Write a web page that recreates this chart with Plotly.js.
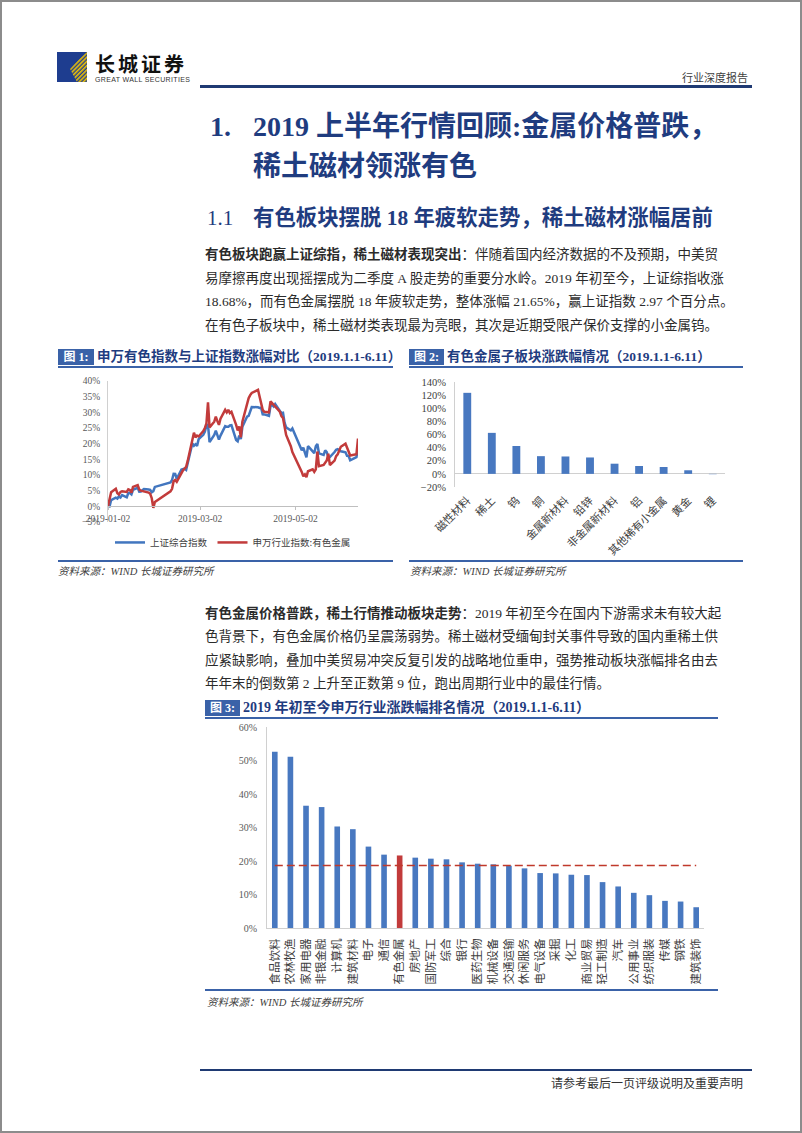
<!DOCTYPE html>
<html>
<head>
<meta charset="utf-8">
<script src="https://cdn.plot.ly/plotly-3.0.1.min.js"></script>
<style>
  html, body { margin:0; padding:0; background:#fff; }
  #page { position:relative; width:802px; height:1133px; overflow:hidden; background:#fff;
          font-family:"Liberation Serif","Noto Sans CJK SC",serif; color:#222; }
  .abs { position:absolute; white-space:nowrap; }
  .border { position:absolute; left:0; top:0; width:798px; height:1129px; border:2px solid #8c8c8c; }
  .navy { color:#1F3C7F; }
  .para { position:absolute; left:205px; width:513px; font-size:13.5px; line-height:20px; height:20px;
          white-space:nowrap; color:#2b2b2b; }
  .just { text-align:justify; text-align-last:justify; }
  .figbox { position:absolute; height:16px; line-height:16px; background:#3A62A8; color:#fff;
            font-weight:bold; font-size:12px; text-align:center; }
  .figtitle { position:absolute; height:16px; line-height:16px; font-weight:bold; font-size:13.5px;
              color:#1F3C7F; white-space:nowrap; }
  .rule { position:absolute; height:2px; background:#3A62A8; }
  .src { position:absolute; font-style:italic; font-size:10.5px; color:#404040; line-height:14px; white-space:nowrap; }
  .chart { position:absolute; }
</style>
</head>
<body>
<div id="page">
  <div class="border"></div>

  <!-- header -->
  <svg class="abs" style="left:57px;top:52px" width="30" height="30" viewBox="0 0 30 30">
    <defs>
      <pattern id="st" width="3" height="3" patternUnits="userSpaceOnUse" patternTransform="rotate(45)">
        <rect width="3" height="3" fill="#1E3D8F"/>
        <rect width="1.6" height="3" fill="#F2C400"/>
      </pattern>
    </defs>
    <rect x="0" y="0" width="30" height="30" fill="#1E3D8F"/>
    <polygon points="30,0 30,30 20,30 13,17 22,7" fill="url(#st)"/>
  </svg>
  <div class="abs" style="left:95px;top:52px;font-size:20px;line-height:24px;font-weight:bold;letter-spacing:3px;font-family:'Noto Sans CJK SC';color:#111;">长城证券</div>
  <div class="abs" style="left:95px;top:75px;font-size:7px;line-height:9px;letter-spacing:0.35px;font-family:'Liberation Sans';color:#333;">GREAT WALL SECURITIES</div>
  <div class="abs" style="left:600px;width:148px;top:70px;font-size:11px;line-height:15px;text-align:right;font-family:'Noto Sans CJK SC';color:#404040;">行业深度报告</div>
  <div class="abs" style="left:200px;top:85px;width:552px;height:2.5px;background:#1F3A73;"></div>

  <!-- headings -->
  <div class="abs navy" style="left:210px;top:110px;font-size:28px;line-height:34px;font-weight:bold;">1.</div>
  <div class="abs navy" style="left:253px;top:110px;font-size:28px;line-height:34px;font-weight:bold;">2019 上半年行情回顾:金属价格普跌，</div>
  <div class="abs navy" style="left:253px;top:150px;font-size:28px;line-height:34px;font-weight:bold;">稀土磁材领涨有色</div>
  <div class="abs navy" style="left:207px;top:206px;font-size:21px;line-height:24px;">1.1</div>
  <div class="abs navy" style="left:253px;top:206px;font-size:21.4px;line-height:24px;font-weight:bold;">有色板块摆脱 18 年疲软走势，稀土磁材涨幅居前</div>

  <!-- paragraph 1 -->
  <div class="para just" style="top:245px;"><b>有色板块跑赢上证综指，稀土磁材表现突出</b>：伴随着国内经济数据的不及预期，中美贸</div>
  <div class="para just" style="top:268.5px;">易摩擦再度出现摇摆成为二季度 A 股走势的重要分水岭。2019 年初至今，上证综指收涨</div>
  <div class="para just" style="top:292px;">18.68%，而有色金属摆脱 18 年疲软走势，整体涨幅 21.65%，赢上证指数 2.97 个百分点。</div>
  <div class="para" style="top:315.5px;">在有色子板块中，稀土磁材类表现最为亮眼，其次是近期受限产保价支撑的小金属钨。</div>

  <!-- figure 1 / 2 titles -->
  <div class="figbox" style="left:58px;top:349px;width:36px;">图 1:</div>
  <div class="figtitle" style="left:97px;top:349px;">申万有色指数与上证指数涨幅对比（2019.1.1-6.11）</div>
  <div class="rule" style="left:58px;top:366px;width:335px;"></div>
  <div class="figbox" style="left:409px;top:349px;width:35px;">图 2:</div>
  <div class="figtitle" style="left:447px;top:349px;">有色金属子板块涨跌幅情况（2019.1.1-6.11）</div>
  <div class="rule" style="left:409px;top:366px;width:334px;"></div>

  <div id="c1" class="chart" style="left:40px;top:370px;width:330px;height:190px;"></div>
  <div id="c2" class="chart" style="left:400px;top:370px;width:400px;height:215px;"></div>

  <div class="rule" style="left:58px;top:559.5px;width:335px;"></div>
  <div class="src" style="left:58px;top:565px;">资料来源：WIND 长城证券研究所</div>
  <div class="rule" style="left:409px;top:559.5px;width:334px;"></div>
  <div class="src" style="left:410px;top:565px;">资料来源：WIND 长城证券研究所</div>

  <!-- paragraph 2 -->
  <div class="para just" style="top:603.5px;"><b>有色金属价格普跌，稀土行情推动板块走势</b>：2019 年初至今在国内下游需求未有较大起</div>
  <div class="para just" style="top:627px;">色背景下，有色金属价格仍呈震荡弱势。稀土磁材受缅甸封关事件导致的国内重稀土供</div>
  <div class="para just" style="top:650.5px;">应紧缺影响，叠加中美贸易冲突反复引发的战略地位重申，强势推动板块涨幅排名由去</div>
  <div class="para" style="top:674px;">年年末的倒数第 2 上升至正数第 9 位，跑出周期行业中的最佳行情。</div>

  <!-- figure 3 -->
  <div class="figbox" style="left:205px;top:700px;width:35px;">图 3:</div>
  <div class="figtitle" style="left:243px;top:700px;font-size:14px;">2019 年初至今申万行业涨跌幅排名情况（2019.1.1-6.11）</div>
  <div class="rule" style="left:205px;top:717px;width:513px;"></div>

  <div id="c3" class="chart" style="left:200px;top:715px;width:520px;height:285px;"></div>

  <div class="rule" style="left:205px;top:988.5px;width:513px;height:2.5px;"></div>
  <div class="src" style="left:207px;top:996px;">资料来源：WIND 长城证券研究所</div>

  <!-- footer -->
  <div class="abs" style="left:200px;top:1069px;width:552px;height:2px;background:#1F3A73;"></div>
  <div class="abs" style="left:450px;width:293px;top:1075px;font-size:12px;line-height:16px;text-align:right;font-family:'Noto Sans CJK SC';color:#333;">请参考最后一页评级说明及重要声明</div>
</div>

<script>
// ---------- Figure 1 data: cumulative change since 2019-01-02 (%) ----------
const tradeDates = [
  '2019-01-02','2019-01-03','2019-01-04','2019-01-07','2019-01-08','2019-01-09','2019-01-10','2019-01-11',
  '2019-01-14','2019-01-15','2019-01-16','2019-01-17','2019-01-18','2019-01-21','2019-01-22','2019-01-23',
  '2019-01-24','2019-01-25','2019-01-28','2019-01-29','2019-01-30','2019-01-31',
  '2019-02-01','2019-02-11','2019-02-12','2019-02-13','2019-02-14','2019-02-15','2019-02-18','2019-02-19',
  '2019-02-20','2019-02-21','2019-02-22','2019-02-25','2019-02-26','2019-02-27','2019-02-28',
  '2019-03-01','2019-03-04','2019-03-05','2019-03-06','2019-03-07','2019-03-08','2019-03-11','2019-03-12',
  '2019-03-13','2019-03-14','2019-03-15','2019-03-18','2019-03-19','2019-03-20','2019-03-21','2019-03-22',
  '2019-03-25','2019-03-26','2019-03-27','2019-03-28','2019-03-29',
  '2019-04-01','2019-04-02','2019-04-03','2019-04-04','2019-04-08','2019-04-09','2019-04-10','2019-04-11',
  '2019-04-12','2019-04-15','2019-04-16','2019-04-17','2019-04-18','2019-04-19','2019-04-22','2019-04-23',
  '2019-04-24','2019-04-25','2019-04-26','2019-04-29','2019-04-30',
  '2019-05-06','2019-05-07','2019-05-08','2019-05-09','2019-05-10','2019-05-13','2019-05-14','2019-05-15',
  '2019-05-16','2019-05-17','2019-05-20','2019-05-21','2019-05-22','2019-05-23','2019-05-24','2019-05-27',
  '2019-05-28','2019-05-29','2019-05-30','2019-05-31',
  '2019-06-03','2019-06-04','2019-06-05','2019-06-06','2019-06-10','2019-06-11'
];
const sseComposite = [
  0, -0.04, 2.01, 2.75, 2.48, 3.21, 2.83, 3.59, 2.86, 4.26, 4.26, 3.83, 5.30, 5.89, 4.64, 4.69, 5.13, 5.53, 5.34, 5.23, 4.47, 4.84,
  6.20, 7.65, 8.38, 10.38, 10.32, 8.81, 11.73, 11.78, 12.00, 11.62, 13.75, 20.12, 19.32, 19.82, 19.29,
  21.45, 22.81, 23.89, 25.83, 26.01, 20.47, 22.78, 24.14, 22.78, 21.31, 22.57, 25.60, 25.38, 25.37, 25.81, 25.91, 21.17, 20.77, 22.61, 21.48, 25.37,
  28.60, 28.86, 30.46, 31.69, 31.62, 31.41, 31.50, 29.39, 29.34, 28.90, 31.98, 32.36, 31.84, 32.67, 30.41, 29.75, 29.87, 26.71, 25.19, 24.22, 24.87,
  17.90, 18.70, 17.38, 15.64, 19.22, 17.78, 16.97, 19.20, 19.89, 16.92, 16.44, 17.88, 17.30, 15.71, 15.73, 17.32, 18.04, 18.23, 17.87, 17.58,
  17.23, 16.10, 16.07, 14.70, 15.69, 18.68
];
const swNonferrous = [
  0, 2.5, 4.5, 5.6, 4.2, 3.8, 4.6, 4.8, 4.6, 5.4, 5.2, 4.4, 6.2, 6.8, 5.4, 5.0, 4.9, 4.8, 4.4, 4.0, 2.6, -0.5,
  1.4, 4.8, 5.6, 8.0, 8.4, 7.8, 10.8, 11.5, 12.0, 12.6, 14.5, 21.8, 23.5, 22.0, 22.6,
  22.3, 24.0, 25.0, 26.5, 33.2, 25.2, 27.0, 28.6, 27.2, 26.0, 28.0, 30.8, 30.0, 30.8, 29.8, 30.2, 26.0, 24.2, 25.5, 22.0, 27.0,
  33.0, 34.5, 35.5, 36.2, 37.2, 35.2, 33.5, 30.8, 30.2, 30.0, 33.5, 33.0, 32.3, 31.8, 30.2, 28.8, 28.2, 25.5, 22.8, 19.2, 17.3,
  11.0, 9.6, 10.2, 9.3, 11.2, 11.8, 11.0, 11.8, 17.5, 12.8, 13.2, 13.8, 14.6, 16.8, 13.2, 14.6, 16.0, 16.6, 17.8, 19.0,
  20.0, 18.5, 17.0, 16.2, 16.6, 21.65
];
const fig1Names = ['上证综合指数', '申万行业指数:有色金属'];
const fig1TickDates = ['2019-01-02', '2019-03-02', '2019-05-02'];
const fig1Range = [-5, 40];

// ---------- Figure 2 data ----------
const subsectors = ['磁性材料','稀土','钨','铜','金属新材料','铅锌','非金属新材料','铝','其他稀有小金属','黄金','锂'];
const subsectorChange = [123.5, 62.5, 42.5, 27, 26.5, 25, 15.5, 12, 10.5, 5.5, -0.5];

// ---------- Figure 3 data ----------
const industries = ['食品饮料','农林牧渔','家用电器','非银金融','计算机','建筑材料','电子','通信','有色金属','房地产',
  '国防军工','综合','银行','医药生物','机械设备','交通运输','休闲服务','电气设备','采掘','化工',
  '商业贸易','轻工制造','汽车','公用事业','纺织服装','传媒','钢铁','建筑装饰'];
const industryChange = [52.6, 51.1, 36.5, 36.1, 30.3, 29.5, 24.3, 21.9, 21.65, 21.0,
  20.7, 20.5, 19.6, 19.2, 19.0, 18.6, 17.8, 16.4, 16.3, 15.9,
  15.8, 13.7, 12.4, 10.5, 9.8, 8.1, 7.9, 6.2];
const highlightIndustry = '有色金属';
const sseGain = 18.68;

const BLUE = '#4276BF', RED = '#C23B3B', BAR = '#4878C0', AXIS = '#D0D0D0';
const latin = 'Liberation Serif, Noto Sans CJK SC, serif';
const cjk = 'Noto Sans CJK SC, Liberation Serif, sans-serif';
const cfg = {staticPlot:true, displayModeBar:false};

// Figure 1
Plotly.newPlot('c1', [
  {x: tradeDates, y: sseComposite, type:'scatter', mode:'lines', name: fig1Names[0], line:{color:BLUE, width:2.5}},
  {x: tradeDates, y: swNonferrous, type:'scatter', mode:'lines', name: fig1Names[1], line:{color:RED, width:2.5}}
], {
  width:330, height:190, margin:{l:68, r:12, t:11, b:38, autoexpand:false},
  paper_bgcolor:'rgba(0,0,0,0)', plot_bgcolor:'rgba(0,0,0,0)',
  font:{family:latin, size:9.5, color:'#595959'},
  showlegend:true,
  legend:{orientation:'h', x:0.5, xanchor:'center', y:-0.145, yanchor:'middle',
          font:{family:cjk, size:9.5, color:'#404040'}, itemwidth:30, tracegroupgap:0},
  xaxis:{type:'date', range:[tradeDates[0], tradeDates[tradeDates.length-1]], tickvals:fig1TickDates,
         tickformat:'%Y-%m-%d', anchor:'free', position:(0 - fig1Range[0])/(fig1Range[1]-fig1Range[0]),
         showline:true, linecolor:'#BFBFBF', linewidth:1, ticks:'outside', ticklen:3, tickcolor:'#BFBFBF',
         showgrid:false, zeroline:false, tickfont:{family:latin, size:9.5, color:'#595959'}},
  yaxis:{range:fig1Range, dtick:5, ticksuffix:'%', showgrid:false, zeroline:false,
         showline:true, linecolor:AXIS, ticks:'outside', ticklen:5, tickcolor:'rgba(0,0,0,0)',
         tickfont:{family:latin, size:9.5, color:'#595959'}}
}, cfg);

// Figure 2
Plotly.newPlot('c2', [
  {x: subsectors, y: subsectorChange, type:'bar', marker:{color:BAR}}
], {
  width:400, height:215, margin:{l:55, r:75, t:12, b:98, autoexpand:false},
  paper_bgcolor:'rgba(0,0,0,0)', plot_bgcolor:'rgba(0,0,0,0)',
  showlegend:false, bargap:0.68,
  xaxis:{type:'category', tickangle:-45, showline:false, showgrid:false, zeroline:false,
         ticks:'outside', ticklen:2, tickcolor:'rgba(0,0,0,0)',
         tickfont:{family:cjk, size:11, color:'#404040'}},
  yaxis:{range:[-20,140], dtick:20, ticksuffix:'%', showgrid:false, zeroline:true, zerolinecolor:AXIS, zerolinewidth:1,
         showline:true, linecolor:AXIS, ticks:'outside', ticklen:6, tickcolor:'rgba(0,0,0,0)',
         tickfont:{family:latin, size:10.5, color:'#404040'}}
}, cfg);

// Figure 3
Plotly.newPlot('c3', [
  {x: industries, y: industryChange, type:'bar',
   marker:{color: industries.map(n => n === highlightIndustry ? RED : BAR)}},
  {x: industries, y: industries.map(() => sseGain), type:'scatter', mode:'lines',
   line:{color:'#C0392B', width:1.5, dash:'8px,4px'}}
], {
  width:520, height:285, margin:{l:67, r:16, t:12, b:71.5, autoexpand:false},
  paper_bgcolor:'rgba(0,0,0,0)', plot_bgcolor:'rgba(0,0,0,0)',
  showlegend:false, bargap:0.64,
  xaxis:{type:'category', tickangle:-90, showline:true, linecolor:AXIS, showgrid:false, zeroline:false,
         ticks:'outside', ticklen:5, tickcolor:'rgba(0,0,0,0)',
         tickfont:{family:cjk, size:11.5, color:'#404040'}},
  yaxis:{range:[0,60], dtick:10, ticksuffix:'%', showgrid:false, zeroline:false,
         showline:true, linecolor:AXIS, ticks:'outside', ticklen:7, tickcolor:'rgba(0,0,0,0)',
         tickfont:{family:latin, size:10, color:'#595959'}}
}, cfg);
</script>
</body>
</html>
